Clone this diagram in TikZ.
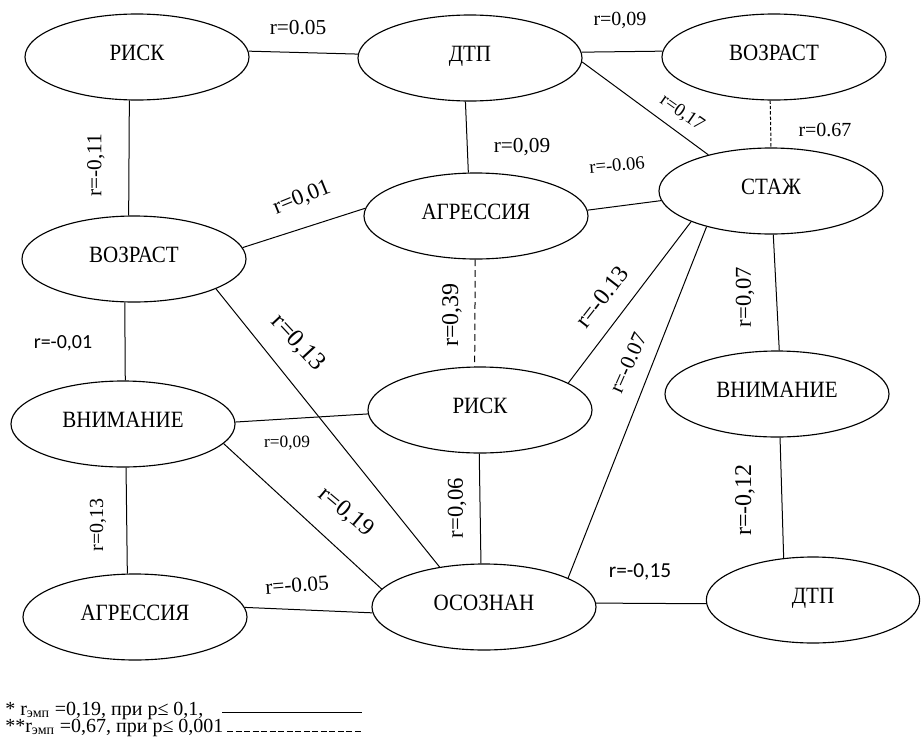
\documentclass[tikz,border=0pt]{standalone}
\usepackage{fontspec}
\setmainfont{Liberation Serif}
\newfontfamily\nodefont{Liberation Serif}[FakeStretch=0.9]
\newfontfamily\calfont{Carlito}
\usetikzlibrary{shapes.geometric}
\newcommand\lfs[1]{\fontsize{#1}{#1}\selectfont}
\begin{document}
\begin{tikzpicture}[x=0.75pt,y=-0.75pt]
\tikzset{
 ell/.style={ellipse, draw, line width=0.85pt, minimum width=168pt, minimum height=64.5pt,
   inner sep=0pt, font=\nodefont\lfs{17.5}, text height=12pt, text depth=7.5pt},
 edge/.style={line width=0.75pt},
 dashA/.style={edge, dash pattern=on 5pt off 3pt},
 dashB/.style={edge, dash pattern=on 2.5pt off 1.5pt},
 lab/.style={inner sep=0pt},
 foot/.style={inner sep=0pt, anchor=base west, font=\rmfamily\lfs{15}},
}
\fill[white] (0,0) rectangle (922,743);
\useasboundingbox (0,0) rectangle (922,743);

% ellipses
\node[ell] (A) at (137,57) {РИСК};
\node[ell] (B) at (470,58) {ДТП};
\node[ell] (C) at (774,57) {ВОЗРАСТ};
\node[ell] (D) at (771,191) {СТАЖ};
\node[ell] (E) at (476,216) {АГРЕССИЯ};
\node[ell] (F) at (134,259) {ВОЗРАСТ};
\node[ell] (G) at (123,424) {ВНИМАНИЕ};
\node[ell] (H) at (480,410) {РИСК};
\node[ell] (I) at (777,394) {ВНИМАНИЕ};
\node[ell] (J) at (135,617) {АГРЕССИЯ};
\node[ell] (K) at (484,607) {ОСОЗНАН};
\node[ell, minimum width=160pt] (L) at (813,600) {ДТП};

% connectors
\draw[edge] (A.3) -- (B.178);
\draw[edge] (B.3) -- (C.177);
\draw[edge] (B.-2) -- (D.150);
\draw[dashB] (C.-95) -- (D.90);
\draw[edge] (B.-96) -- (E.100);
\draw[edge] (E.3) -- (D.185);
\draw[edge] (A.-100) -- (F.97);
\draw[edge] (F.6) -- (E.176);
\draw[edge] (F.-102) -- (G.87);
\draw[edge] (F.-20) -- (K.138);
\draw[dashA] (E.-91) -- (H.97);
\draw[edge] (D.201) -- (H.17);
\draw[edge] (D.209) -- (K.19);
\draw[edge] (D.-87) -- (I.87);
\draw[edge] (G.1) -- (H.182);
\draw[edge] (G.-11) -- (K.170);
\draw[edge] (H.-91) -- (K.94);
\draw[edge] (G.-86) -- (J.100);
\draw[edge] (J.5) -- (K.183);
\draw[edge] (K.2) -- (L.182);
\draw[edge] (I.-86) -- (L.125);

% labels
\node[lab, font=\rmfamily\lfs{16}] (l1) at (298,28) {r=0.05};
\node[lab, font=\rmfamily\lfs{15}] (l2) at (620,20) {r=0,09};
\node[lab, font=\rmfamily\lfs{14}, rotate=-35] (l3) at (682,113) {r=0,17};
\node[lab, font=\rmfamily\lfs{15}] (l4) at (825,130) {r=0.67};
\node[lab, font=\rmfamily\lfs{16}] (l5) at (522,147) {r=0,09};
\node[lab, font=\rmfamily\lfs{14}, rotate=5] (l6) at (617,165) {r=-0.06};
\node[lab, font=\rmfamily\lfs{16}, rotate=90] (l7) at (96,165) {r=-0,11};
\node[lab, font=\rmfamily\lfs{17}, rotate=22] (l8) at (302,198) {r=0,01};
\node[lab, font=\calfont\lfs{15}] (l9) at (63,343) {r=-0,01};
\node[lab, font=\rmfamily\lfs{19}, rotate=-47] (l10) at (298,343) {r=0,13};
\node[lab, font=\rmfamily\lfs{18}, rotate=90] (l11) at (452,315) {r=0,39};
\node[lab, font=\rmfamily\lfs{18}, rotate=52] (l12) at (602,297) {r=-0.13};
\node[lab, font=\rmfamily\lfs{16}, rotate=66] (l13) at (628,363) {r=-0.07};
\node[lab, font=\rmfamily\lfs{17}, rotate=90] (l14) at (745,297) {r=0,07};
\node[lab, font=\rmfamily\lfs{13}] (l15) at (287,443) {r=0,09};
\node[lab, font=\rmfamily\lfs{18}, rotate=-40] (l16) at (346,512) {r=0,19};
\node[lab, font=\rmfamily\lfs{17}, rotate=90] (l17) at (457,508) {r=0,06};
\node[lab, font=\rmfamily\lfs{15}, rotate=90] (l18) at (98,525) {r=0,13};
\node[lab, font=\rmfamily\lfs{16}, rotate=4] (l19) at (297,585) {r=-0.05};
\node[lab, font=\calfont\lfs{16}] (l20) at (640,572) {r=-0,15};
\node[lab, font=\rmfamily\lfs{18}, rotate=90] (l21) at (745,500) {r=-0,12};

% footnote
\node[foot] (fn1) at (5,715) {* r\textsubscript{эмп} =0,19, при p≤ 0,1,};
\node[foot] (fn2) at (5,732) {**r\textsubscript{эмп} =0,67, при p≤ 0,001};
\coordinate (s1) at (222,712);
\coordinate (s2) at (362,712);
\coordinate (d1) at (227,731);
\coordinate (d2) at (362,731);
\draw[edge] (s1) -- (s2);
\draw[edge, dash pattern=on 4.5pt off 1.9pt] (d1) -- (d2);
\end{tikzpicture}
\end{document}
